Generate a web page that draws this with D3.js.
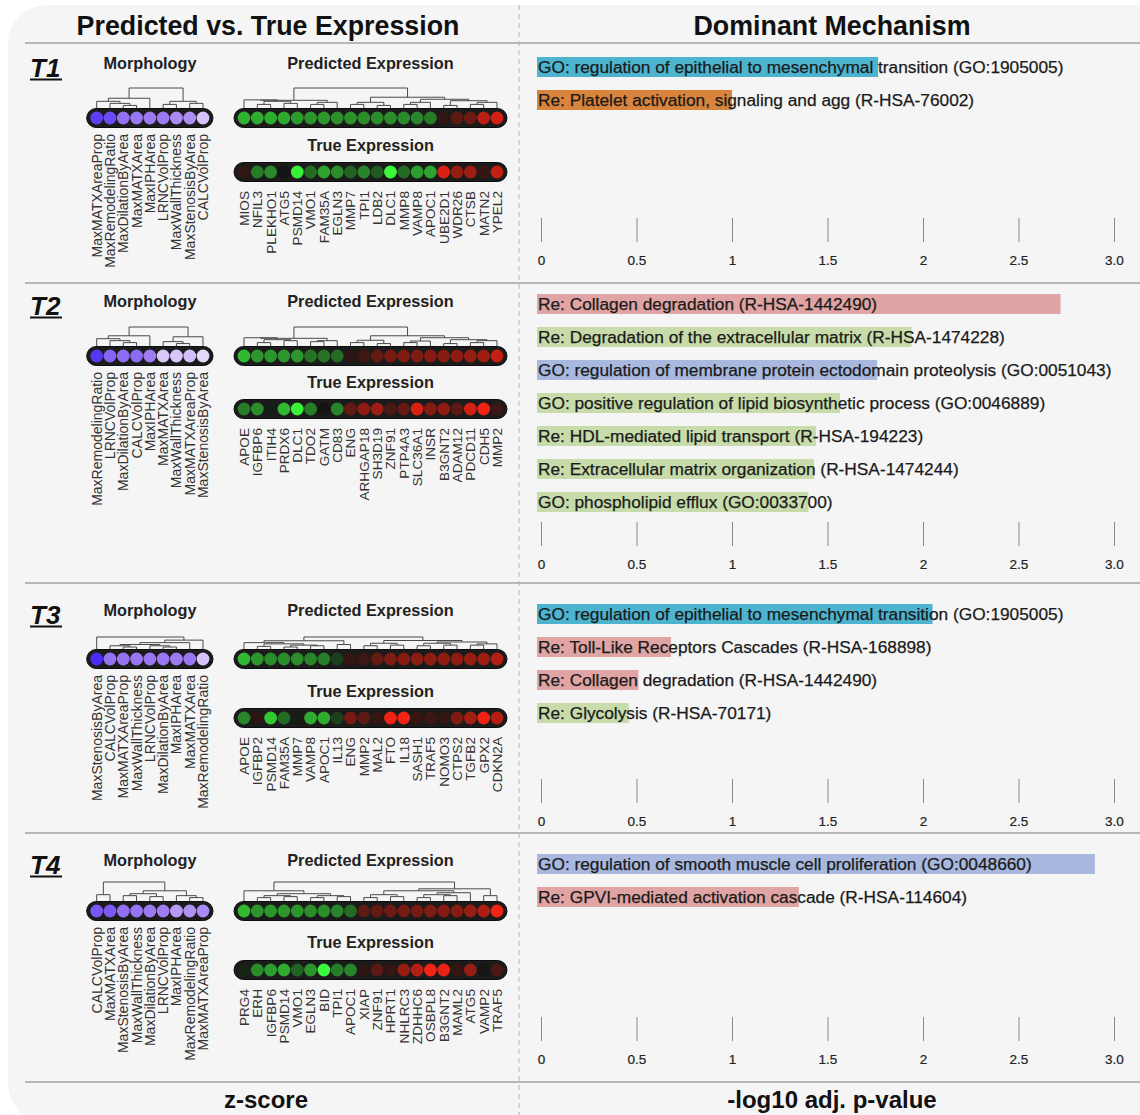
<!DOCTYPE html>
<html>
<head>
<meta charset="utf-8">
<script src="https://cdn.jsdelivr.net/npm/d3@7"></script>
<style>
  html, body { margin: 0; padding: 0; background: #fff; }
  svg { display: block; font-family: "Liberation Sans", Arial, Helvetica, sans-serif; }
</style>
</head>
<body>
<svg id="chart"></svg>
<script>
// ---- data ----
const tiers = ['T1', 'T2', 'T3', 'T4'];

const morphLabels = [
  ['MaxMATXAreaProp', 'MaxRemodelingRatio', 'MaxDilationByArea', 'MaxMATXArea', 'MaxIPHArea', 'LRNCVolProp', 'MaxWallThickness', 'MaxStenosisByArea', 'CALCVolProp'],
  ['MaxRemodelingRatio', 'LRNCVolProp', 'MaxDilationByArea', 'CALCVolProp', 'MaxIPHArea', 'MaxMATXArea', 'MaxWallThickness', 'MaxMATXAreaProp', 'MaxStenosisByArea'],
  ['MaxStenosisByArea', 'CALCVolProp', 'MaxMATXAreaProp', 'MaxWallThickness', 'LRNCVolProp', 'MaxDilationByArea', 'MaxIPHArea', 'MaxMATXArea', 'MaxRemodelingRatio'],
  ['CALCVolProp', 'MaxMATXArea', 'MaxStenosisByArea', 'MaxWallThickness', 'MaxDilationByArea', 'LRNCVolProp', 'MaxIPHArea', 'MaxRemodelingRatio', 'MaxMATXAreaProp']
];
const morphZ = [
  [2.3, 2.1, 1.5, 1.4, 1.35, 1.35, 1.15, 1.1, 0.45],
  [2.4, 1.7, 1.55, 1.6, 1.3, 0.4, 0.4, 0.5, 0.2],
  [2.6, 1.45, 1.45, 1.4, 1.4, 1.4, 1.35, 1.4, 0.45],
  [1.9, 1.85, 1.5, 1.45, 1.35, 1.3, 0.95, 1.05, 1.15]
];
// linkage rows: [childA, childB, height]; ids >= n are earlier merges
const morphLinks = [
  [[2, 3, .15], [1, 9, .25], [0, 10, .35], [11, 4, .5], [5, 6, .2], [7, 8, .25], [13, 14, .35], [12, 15, 1]],
  [[2, 3, .2], [1, 9, .3], [0, 10, .4], [11, 4, .55], [6, 7, .15], [5, 13, .25], [14, 8, .5], [12, 15, 1]],
  [[2, 3, .2], [1, 9, .3], [5, 6, .2], [4, 11, .3], [10, 12, .4], [13, 7, .55], [14, 8, .75], [0, 15, 1]],
  [[0, 1, .35], [2, 3, .3], [4, 5, .25], [10, 11, .4], [7, 8, .2], [6, 13, .3], [12, 14, .55], [9, 15, 1]]
];

const genes = [
  ['MIOS', 'NFIL3', 'PLEKHO1', 'ATG5', 'PSMD14', 'VMO1', 'FAM35A', 'EGLN3', 'MMP7', 'TPI1', 'LDB2', 'DLC1', 'MMP8', 'VAMP8', 'APOC1', 'UBE2D1', 'WDR26', 'CTSB', 'MATN2', 'YPEL2'],
  ['APOE', 'IGFBP6', 'ITIH4', 'PRDX6', 'DLC1', 'TDO2', 'GATM', 'CD83', 'ENG', 'ARHGAP18', 'SH3D19', 'ZNF91', 'PTP4A3', 'SLC36A1', 'INSR', 'B3GNT2', 'ADAM12', 'PDCD11', 'CDH5', 'MMP2'],
  ['APOE', 'IGFBP2', 'PSMD14', 'FAM35A', 'MMP7', 'VAMP8', 'APOC1', 'IL13', 'ENG', 'MMP2', 'MAL2', 'FTO', 'IL18', 'SASH1', 'TRAF5', 'NOMO3', 'CTPS2', 'TGFB2', 'GPX2', 'CDKN2A'],
  ['PRG4', 'ERH', 'IGFBP6', 'PSMD14', 'VMO1', 'EGLN3', 'BID', 'TPI1', 'APOC1', 'XIAP', 'ZNF91', 'HPRT1', 'NHLRC3', 'ZDHHC6', 'OSBPL8', 'B3GNT2', 'MAML2', 'ATG5', 'VAMP2', 'TRAF5']
];
const predZ = [
  [-1.9, -1.8, -1.8, -1.75, -1.55, -1.5, -1.5, -1.45, -1.45, -1.4, -1.4, -1.4, -1.35, -1.3, -1.2, 0.35, 0.9, 1.05, 2.1, 2.4],
  [-2.0, -1.5, -1.5, -1.5, -1.5, -1.1, -1.1, -1.0, 0.3, 0.5, 1.0, 1.2, 1.3, 1.3, 1.4, 1.4, 1.5, 1.6, 1.7, 2.2],
  [-2.0, -1.5, -1.4, -1.4, -1.4, -1.3, -1.2, -0.5, 0.4, 0.5, 1.0, 1.3, 1.4, 1.5, 1.5, 1.5, 1.5, 1.6, 1.7, 2.0],
  [-2.0, -1.5, -1.5, -1.5, -1.5, -1.4, -1.4, -1.3, -1.0, 0.9, 1.0, 1.1, 1.2, 1.2, 1.3, 1.4, 1.4, 1.6, 1.9, 2.8]
];
const trueZ = [
  [0.35, -1.2, -1.35, 0.0, -2.8, -1.0, -1.7, -1.4, -0.9, -1.3, -0.8, -2.9, -1.0, -1.6, -1.7, 2.5, 1.6, 1.7, 0.4, 2.2],
  [-1.2, -1.4, -0.1, -2.0, -2.8, -1.2, 0.0, -1.3, 1.0, 1.5, 1.7, 0.7, 1.0, 2.5, 1.4, 1.5, 0.9, 2.4, 2.8, 0.5],
  [-1.3, 0.3, -2.2, -1.0, -0.1, -1.8, -1.8, -0.5, 1.2, 0.9, 0.4, 2.8, 2.8, 0.4, 0.5, 0.4, 1.3, 1.8, 2.8, 2.0],
  [-0.2, -1.4, -1.6, -1.8, -0.9, -1.5, -2.9, -1.2, -1.3, 0.3, 0.9, 0.4, 1.6, 2.0, 2.8, 2.7, 0.4, 1.6, 0.05, 0.7]
];
const predLinks = [
  [[1, 2, .2], [3, 4, .25], [20, 21, .35], [0, 22, .42], [5, 6, .2], [24, 7, .3], [23, 25, .4], [8, 9, .2], [10, 11, .15], [27, 28, .3], [12, 13, .2], [30, 14, .3], [15, 16, .15], [17, 18, .2], [33, 19, .3], [32, 34, .38], [31, 35, .45], [29, 36, .55], [26, 37, 1]],
  [[1, 2, .2], [3, 4, .3], [20, 21, .35], [0, 22, .45], [5, 6, .25], [24, 7, .3], [23, 25, .42], [8, 9, .2], [10, 11, .15], [27, 28, .32], [12, 13, .2], [30, 14, .28], [15, 16, .15], [17, 18, .2], [33, 19, .3], [32, 34, .35], [31, 35, .45], [29, 36, .55], [26, 37, 1]],
  [[1, 2, .25], [3, 4, .2], [5, 6, .3], [21, 22, .35], [20, 23, .45], [0, 24, .55], [7, 8, .4], [25, 26, .7], [9, 10, .3], [11, 12, .35], [28, 29, .5], [13, 14, .3], [15, 16, .35], [31, 32, .5], [17, 18, .35], [34, 19, .45], [33, 35, .6], [30, 36, .72], [27, 37, 1]],
  [[1, 2, .2], [3, 4, .25], [20, 21, .3], [5, 6, .2], [7, 8, .25], [23, 24, .3], [22, 25, .4], [0, 26, .55], [9, 10, .2], [11, 12, .25], [28, 29, .35], [13, 14, .2], [15, 16, .3], [31, 32, .35], [33, 17, .45], [30, 34, .55], [18, 19, .3], [35, 36, .65], [27, 37, 1]]
];

const termLabels = [
  ['GO: regulation of epithelial to mesenchymal transition (GO:1905005)', 'Re: Platelet activation, signaling and agg (R-HSA-76002)'],
  ['Re: Collagen degradation (R-HSA-1442490)', 'Re: Degradation of the extracellular matrix (R-HSA-1474228)', 'GO: regulation of membrane protein ectodomain proteolysis (GO:0051043)', 'GO: positive regulation of lipid biosynthetic process (GO:0046889)', 'Re: HDL-mediated lipid transport (R-HSA-194223)', 'Re: Extracellular matrix organization (R-HSA-1474244)', 'GO: phospholipid efflux (GO:0033700)'],
  ['GO: regulation of epithelial to mesenchymal transition (GO:1905005)', 'Re: Toll-Like Receptors Cascades (R-HSA-168898)', 'Re: Collagen degradation (R-HSA-1442490)', 'Re: Glycolysis (R-HSA-70171)'],
  ['GO: regulation of smooth muscle cell proliferation (GO:0048660)', 'Re: GPVI-mediated activation cascade (R-HSA-114604)']
];
const termScores = [
  [1.765, 1.0],
  [2.72, 1.94, 1.76, 1.565, 1.44, 1.43, 1.40],
  [2.05, 0.68, 0.51, 0.46],
  [2.90, 1.35]
];
const termGroups = [
  ['A', 'B'],
  ['C', 'D', 'E', 'D', 'D', 'D', 'D'],
  ['A', 'C', 'C', 'D'],
  ['E', 'C']
];
const tickValues = [0, 0.5, 1, 1.5, 2, 2.5, 3];
const tickLabels = ['0', '0.5', '1', '1.5', '2', '2.5', '3.0'];

// ---- layout ----
const width = 1140, height = 1115;
const rows = [
  { top: 43, title: 68.5, dTop: 88, pred: 118, te: 150.5, tru: 172, bars: 67, axis: 218 },
  { top: 283, title: 306.5, dTop: 327, pred: 356, te: 388, tru: 409, bars: 304, axis: 522 },
  { top: 583, title: 615.5, dTop: 637, pred: 659, te: 697, tru: 718, bars: 614, axis: 779 },
  { top: 833, title: 865.5, dTop: 882, pred: 911, te: 947.5, tru: 970, bars: 864, axis: 1017 }
];
const bottomLine = 1082;
const stripH = 19, r = 6.4;

const xMorph = d3.scaleLinear().domain([0, 8]).range([96.7, 203]);
const xGene = d3.scaleLinear().domain([0, 19]).range([244, 497]);
const xBar = d3.scaleLinear().domain([0, 3]).range([541, 1114]);

const morphColor = d3.scaleLinear().domain([0, 1.3, 2.6]).range(['#f0eafc', '#a07cf2', '#4a2cf2']);
const exprColor = d3.scaleLinear().domain([-3, -1.5, 0, 1.5, 3])
  .range(['#3cff3c', '#2c962c', '#141414', '#8e1c12', '#ff2414']);
const barColor = d3.scaleOrdinal().domain(['A', 'B', 'C', 'D', 'E'])
  .range(['#4db4d0', '#d9843c', '#dfa4a3', '#c7dcaa', '#a8b8de']);

const svg = d3.select('#chart')
  .attr('width', width)
  .attr('height', height)
  .attr('viewBox', [0, 0, width, height]);

// card background
svg.append('rect')
  .attr('x', 8).attr('y', 5)
  .attr('width', 1200).attr('height', 1117)
  .attr('rx', 38)
  .attr('fill', '#f5f5f5');

// header titles
svg.append('text')
  .attr('x', 268).attr('y', 35)
  .attr('text-anchor', 'middle')
  .attr('font-size', 26.8).attr('font-weight', 'bold').attr('fill', '#111')
  .text('Predicted vs. True Expression');
svg.append('text')
  .attr('x', 832).attr('y', 35)
  .attr('text-anchor', 'middle')
  .attr('font-size', 26.8).attr('font-weight', 'bold').attr('fill', '#111')
  .text('Dominant Mechanism');

// separators
svg.append('g')
  .attr('stroke', '#7a7a7a').attr('stroke-width', 1.2)
  .selectAll('line')
  .data([rows[0].top, rows[1].top, rows[2].top, rows[3].top, bottomLine])
  .join('line')
  .attr('x1', 25).attr('x2', width)
  .attr('y1', d => d).attr('y2', d => d);

svg.append('line')
  .attr('x1', 519).attr('x2', 519)
  .attr('y1', 5).attr('y2', height)
  .attr('stroke', '#b5b5b5').attr('stroke-width', 1)
  .attr('stroke-dasharray', '5,4');

// footer labels
svg.append('text')
  .attr('x', 266).attr('y', 1108)
  .attr('text-anchor', 'middle')
  .attr('font-size', 24).attr('font-weight', 'bold').attr('fill', '#111')
  .text('z-score');
svg.append('text')
  .attr('x', 832).attr('y', 1108)
  .attr('text-anchor', 'middle')
  .attr('font-size', 24).attr('font-weight', 'bold').attr('fill', '#111')
  .text('-log10 adj. p-value');

// dendrogram helper: linkage -> elbow paths
const dendro = (g, links, n, xScale, yTop, yBottom) => {
  const yScale = d3.scaleLinear().domain([0, 1]).range([yBottom, yTop]);
  const nodes = d3.range(n).map(i => ({ x: xScale(i), y: yBottom }));
  links.forEach(([a, b, h]) => {
    const na = nodes[a], nb = nodes[b];
    const y = yScale(h);
    g.append('path')
      .attr('d', `M${na.x},${na.y}V${y}H${nb.x}V${nb.y}`);
    nodes.push({ x: (na.x + nb.x) / 2, y });
  });
};

// strip of circles helper
const strip = (g, values, xScale, cy, color) => {
  const n = values.length;
  g.append('rect')
    .attr('x', xScale(0) - 10)
    .attr('y', cy - stripH / 2)
    .attr('width', xScale(n - 1) - xScale(0) + 20)
    .attr('height', stripH)
    .attr('rx', stripH / 2)
    .attr('fill', '#1b1b1b')
    .attr('stroke', '#0d0d0d');
  g.selectAll('circle.c')
    .data(values)
    .join('circle')
    .attr('class', 'c')
    .attr('cx', (d, i) => xScale(i))
    .attr('cy', cy)
    .attr('r', r)
    .attr('fill', d => color(d));
};

const vLabels = (g, labels, xScale, y0, size) => {
  g.selectAll('text.v')
    .data(labels)
    .join('text')
    .attr('class', 'v')
    .attr('transform', (d, i) => `translate(${xScale(i)},${y0}) rotate(-90)`)
    .attr('text-anchor', 'end')
    .attr('dy', '0.36em')
    .attr('font-size', size)
    .attr('fill', '#333')
    .text(d => d);
};

tiers.forEach((tier, t) => {
  const row = rows[t];
  const g = svg.append('g');

  // tier label
  g.append('text')
    .attr('x', 30).attr('y', row.title + 8)
    .attr('font-size', 26).attr('font-weight', 'bold').attr('font-style', 'italic')
    .attr('fill', '#111')
    .text(tier);
  g.append('line')
    .attr('x1', 30).attr('x2', 62)
    .attr('y1', row.title + 11).attr('y2', row.title + 11)
    .attr('stroke', '#111').attr('stroke-width', 2);

  // panel titles
  const title = (x, y, s) => g.append('text')
    .attr('x', x).attr('y', y)
    .attr('text-anchor', 'middle')
    .attr('font-size', 16.3).attr('font-weight', 'bold').attr('fill', '#222')
    .text(s);
  title(150, row.title, 'Morphology');
  title(370.5, row.title, 'Predicted Expression');
  title(370.5, row.te, 'True Expression');

  // dendrograms
  const dg = g.append('g').attr('fill', 'none').attr('stroke', '#4a4a4a').attr('stroke-width', 1);
  dendro(dg, morphLinks[t], 9, xMorph, row.dTop, row.pred - stripH / 2);
  dendro(dg, predLinks[t], 20, xGene, row.dTop, row.pred - stripH / 2);

  // strips
  strip(g.append('g'), morphZ[t], xMorph, row.pred, morphColor);
  strip(g.append('g'), predZ[t], xGene, row.pred, exprColor);
  strip(g.append('g'), trueZ[t], xGene, row.tru, exprColor);

  // labels
  vLabels(g.append('g'), morphLabels[t], xMorph, row.pred + 16, 14);
  vLabels(g.append('g'), genes[t], xGene, row.tru + 19, 13.6);

  // enrichment bars
  const bg = g.append('g');
  bg.selectAll('rect')
    .data(termScores[t])
    .join('rect')
    .attr('x', xBar(0) - 4)
    .attr('y', (d, i) => row.bars + i * 33 - 10)
    .attr('width', d => xBar(d) - xBar(0) + 4)
    .attr('height', 20)
    .attr('fill', (d, i) => barColor(termGroups[t][i]));
  bg.selectAll('text')
    .data(termLabels[t])
    .join('text')
    .attr('x', xBar(0) - 3)
    .attr('y', (d, i) => row.bars + i * 33)
    .attr('dy', '0.36em')
    .attr('font-size', 17.3)
    .attr('fill', '#1a1a1a')
    .attr('stroke', '#1a1a1a').attr('stroke-width', 0.25)
    .text(d => d);

  // axis
  svg.append('g')
    .attr('transform', `translate(0,${row.axis})`)
    .call(d3.axisBottom(xBar)
      .tickValues(tickValues)
      .tickFormat((d, i) => tickLabels[i])
      .tickSize(24)
      .tickPadding(13))
    .call(a => a.select('.domain').remove())
    .call(a => a.selectAll('.tick line').attr('stroke', '#8a8a8a'))
    .call(a => a.selectAll('.tick text')
      .attr('font-size', 13.5).attr('fill', '#222')
      .attr('stroke', '#222').attr('stroke-width', 0.2)
      .attr('font-family', '"Liberation Sans", Arial, sans-serif'));
});
</script>
</body>
</html>
